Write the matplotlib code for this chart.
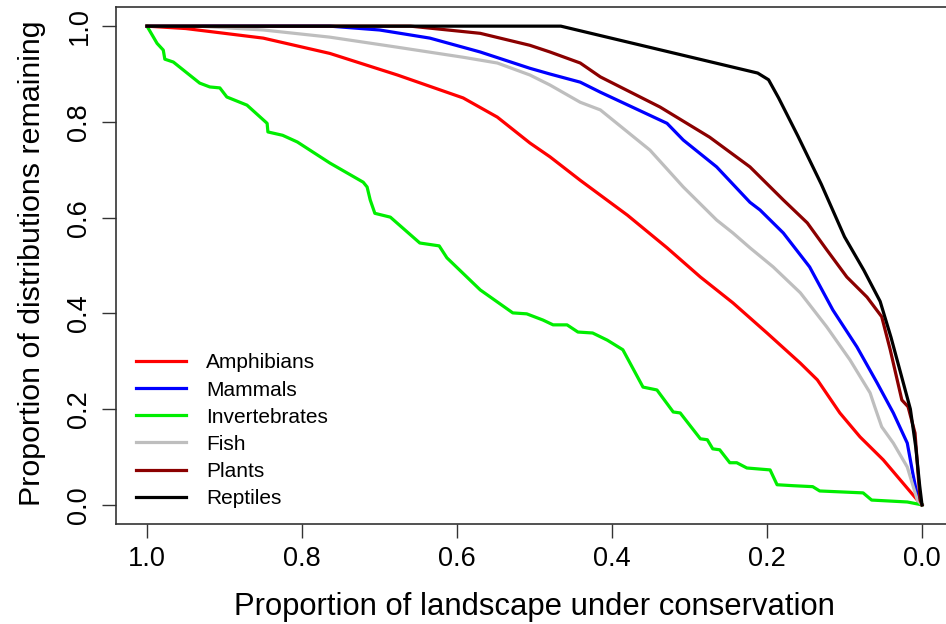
import matplotlib
matplotlib.use("Agg")
import matplotlib.pyplot as plt
import numpy as np

plt.rcParams['font.family'] = ['Liberation Sans', 'DejaVu Sans']

# curves: x = proportion of landscape, y = proportion remaining
amph_x = [1.0, 0.95, 0.85, 0.764, 0.677, 0.592, 0.548, 0.506, 0.48, 0.441, 0.38, 0.329, 0.286,
          0.244, 0.2, 0.157, 0.135, 0.106, 0.08, 0.05, 0.028, 0.006, 0.0]
amph_y = [1.0, 0.995, 0.975, 0.943, 0.898, 0.85, 0.81, 0.756, 0.727, 0.678, 0.605, 0.537, 0.476,
          0.422, 0.359, 0.296, 0.261, 0.192, 0.142, 0.094, 0.052, 0.01, 0.0]

mamm_x = [1.0, 0.764, 0.70, 0.635, 0.57, 0.506, 0.48, 0.441, 0.415, 0.329, 0.308, 0.265, 0.222,
          0.209, 0.179, 0.145, 0.115, 0.084, 0.058, 0.037, 0.019, 0.012, 0.005, 0.0]
mamm_y = [1.0, 1.0, 0.992, 0.975, 0.946, 0.912, 0.9, 0.883, 0.862, 0.797, 0.762, 0.706, 0.632,
          0.616, 0.568, 0.497, 0.407, 0.33, 0.255, 0.192, 0.129, 0.067, 0.01, 0.0]

inv_x = [1.0, 0.987, 0.979, 0.977, 0.966, 0.932, 0.919, 0.906, 0.897, 0.871, 0.845, 0.844, 0.825,
         0.806, 0.764, 0.721, 0.716, 0.712, 0.706, 0.686, 0.648, 0.623, 0.613, 0.57, 0.528, 0.51,
         0.489, 0.476, 0.458, 0.444, 0.425, 0.406, 0.386, 0.36, 0.342, 0.321, 0.312, 0.286, 0.277,
         0.27, 0.261, 0.248, 0.239, 0.226, 0.196, 0.187, 0.166, 0.141, 0.132, 0.076, 0.065, 0.019, 0.0]
inv_y = [1.0, 0.964, 0.95, 0.931, 0.925, 0.881, 0.873, 0.871, 0.852, 0.835, 0.797, 0.779, 0.772,
         0.758, 0.714, 0.674, 0.664, 0.637, 0.609, 0.601, 0.547, 0.541, 0.516, 0.449, 0.401, 0.399,
         0.386, 0.376, 0.376, 0.361, 0.359, 0.344, 0.324, 0.246, 0.24, 0.194, 0.192, 0.138, 0.136,
         0.117, 0.115, 0.088, 0.088, 0.077, 0.073, 0.042, 0.04, 0.038, 0.029, 0.025, 0.01, 0.006, 0.0]

fish_x = [1.0, 0.935, 0.85, 0.764, 0.677, 0.592, 0.548, 0.506, 0.48, 0.441, 0.415, 0.351, 0.308,
          0.265, 0.244, 0.222, 0.192, 0.157, 0.123, 0.093, 0.067, 0.061, 0.052, 0.037, 0.019, 0.006, 0.0]
fish_y = [1.0, 1.0, 0.992, 0.977, 0.956, 0.935, 0.923, 0.898, 0.877, 0.841, 0.825, 0.741, 0.664,
          0.595, 0.568, 0.537, 0.497, 0.443, 0.372, 0.303, 0.234, 0.205, 0.163, 0.129, 0.079, 0.01, 0.0]

plant_x = [1.0, 0.66, 0.57, 0.506, 0.48, 0.441, 0.415, 0.338, 0.274, 0.222, 0.179, 0.148, 0.123,
           0.097, 0.071, 0.052, 0.041, 0.026, 0.018, 0.009, 0.0025, 0.0]
plant_y = [1.0, 1.0, 0.985, 0.96, 0.946, 0.923, 0.894, 0.831, 0.768, 0.706, 0.637, 0.589, 0.533,
           0.476, 0.434, 0.393, 0.324, 0.219, 0.205, 0.15, 0.01, 0.0]

rept_x = [1.0, 0.466, 0.212, 0.198, 0.185, 0.16, 0.13, 0.10, 0.075, 0.054, 0.04, 0.025, 0.015,
          0.008, 0.003, 0.0]
rept_y = [1.0, 1.0, 0.902, 0.888, 0.85, 0.77, 0.67, 0.56, 0.49, 0.425, 0.35, 0.26, 0.2,
          0.12, 0.04, 0.0]

names = ["Amphibians", "Mammals", "Invertebrates", "Fish", "Plants", "Reptiles"]
colors = ["#FF0000", "#0000FF", "#00EE00", "#BEBEBE", "#8B0000", "#000000"]
xs = [amph_x, mamm_x, inv_x, fish_x, plant_x, rept_x]
ys = [amph_y, mamm_y, inv_y, fish_y, plant_y, rept_y]

fig = plt.figure(figsize=(9.46, 6.24), dpi=100)
ax = fig.add_axes([116 / 946, 100 / 624, (953 - 116) / 946, (524 - 7) / 624])

for x, y, c, n in zip(xs, ys, colors, names):
    ax.plot(x, y, color=c, lw=2.3, label=n)

ax.set_xlim(1.04, -0.04)
ax.set_ylim(-0.04, 1.04)
ax.set_xticks([1.0, 0.8, 0.6, 0.4, 0.2, 0.0])
ax.set_yticks([0.0, 0.2, 0.4, 0.6, 0.8, 1.0])
ax.set_xticklabels(["1.0", "0.8", "0.6", "0.4", "0.2", "0.0"])
ax.set_yticklabels(["0.0", "0.2", "0.4", "0.6", "0.8", "1.0"], rotation=90, va="center")
ax.tick_params(length=10, width=1, labelsize=19.5, color="#333333")
ax.tick_params(axis="x", pad=6)
ax.tick_params(axis="y", pad=7)
for s in ax.spines.values():
    s.set_color("#333333")
    s.set_linewidth(1.2)

ax.set_xlabel("Proportion of landscape under conservation", fontsize=22.3, labelpad=14)
ax.set_ylabel("Proportion of distributions remaining", fontsize=21.9, labelpad=15)
ax.yaxis.label.set_y(0.505)

ax.legend(loc="upper left", bbox_to_anchor=(0.024, 0.33), frameon=False, fontsize=15,
          handlelength=2.4, handletextpad=0.95, labelspacing=0.39, borderpad=0,
          borderaxespad=0)

fig.savefig("out.png", dpi=100)
